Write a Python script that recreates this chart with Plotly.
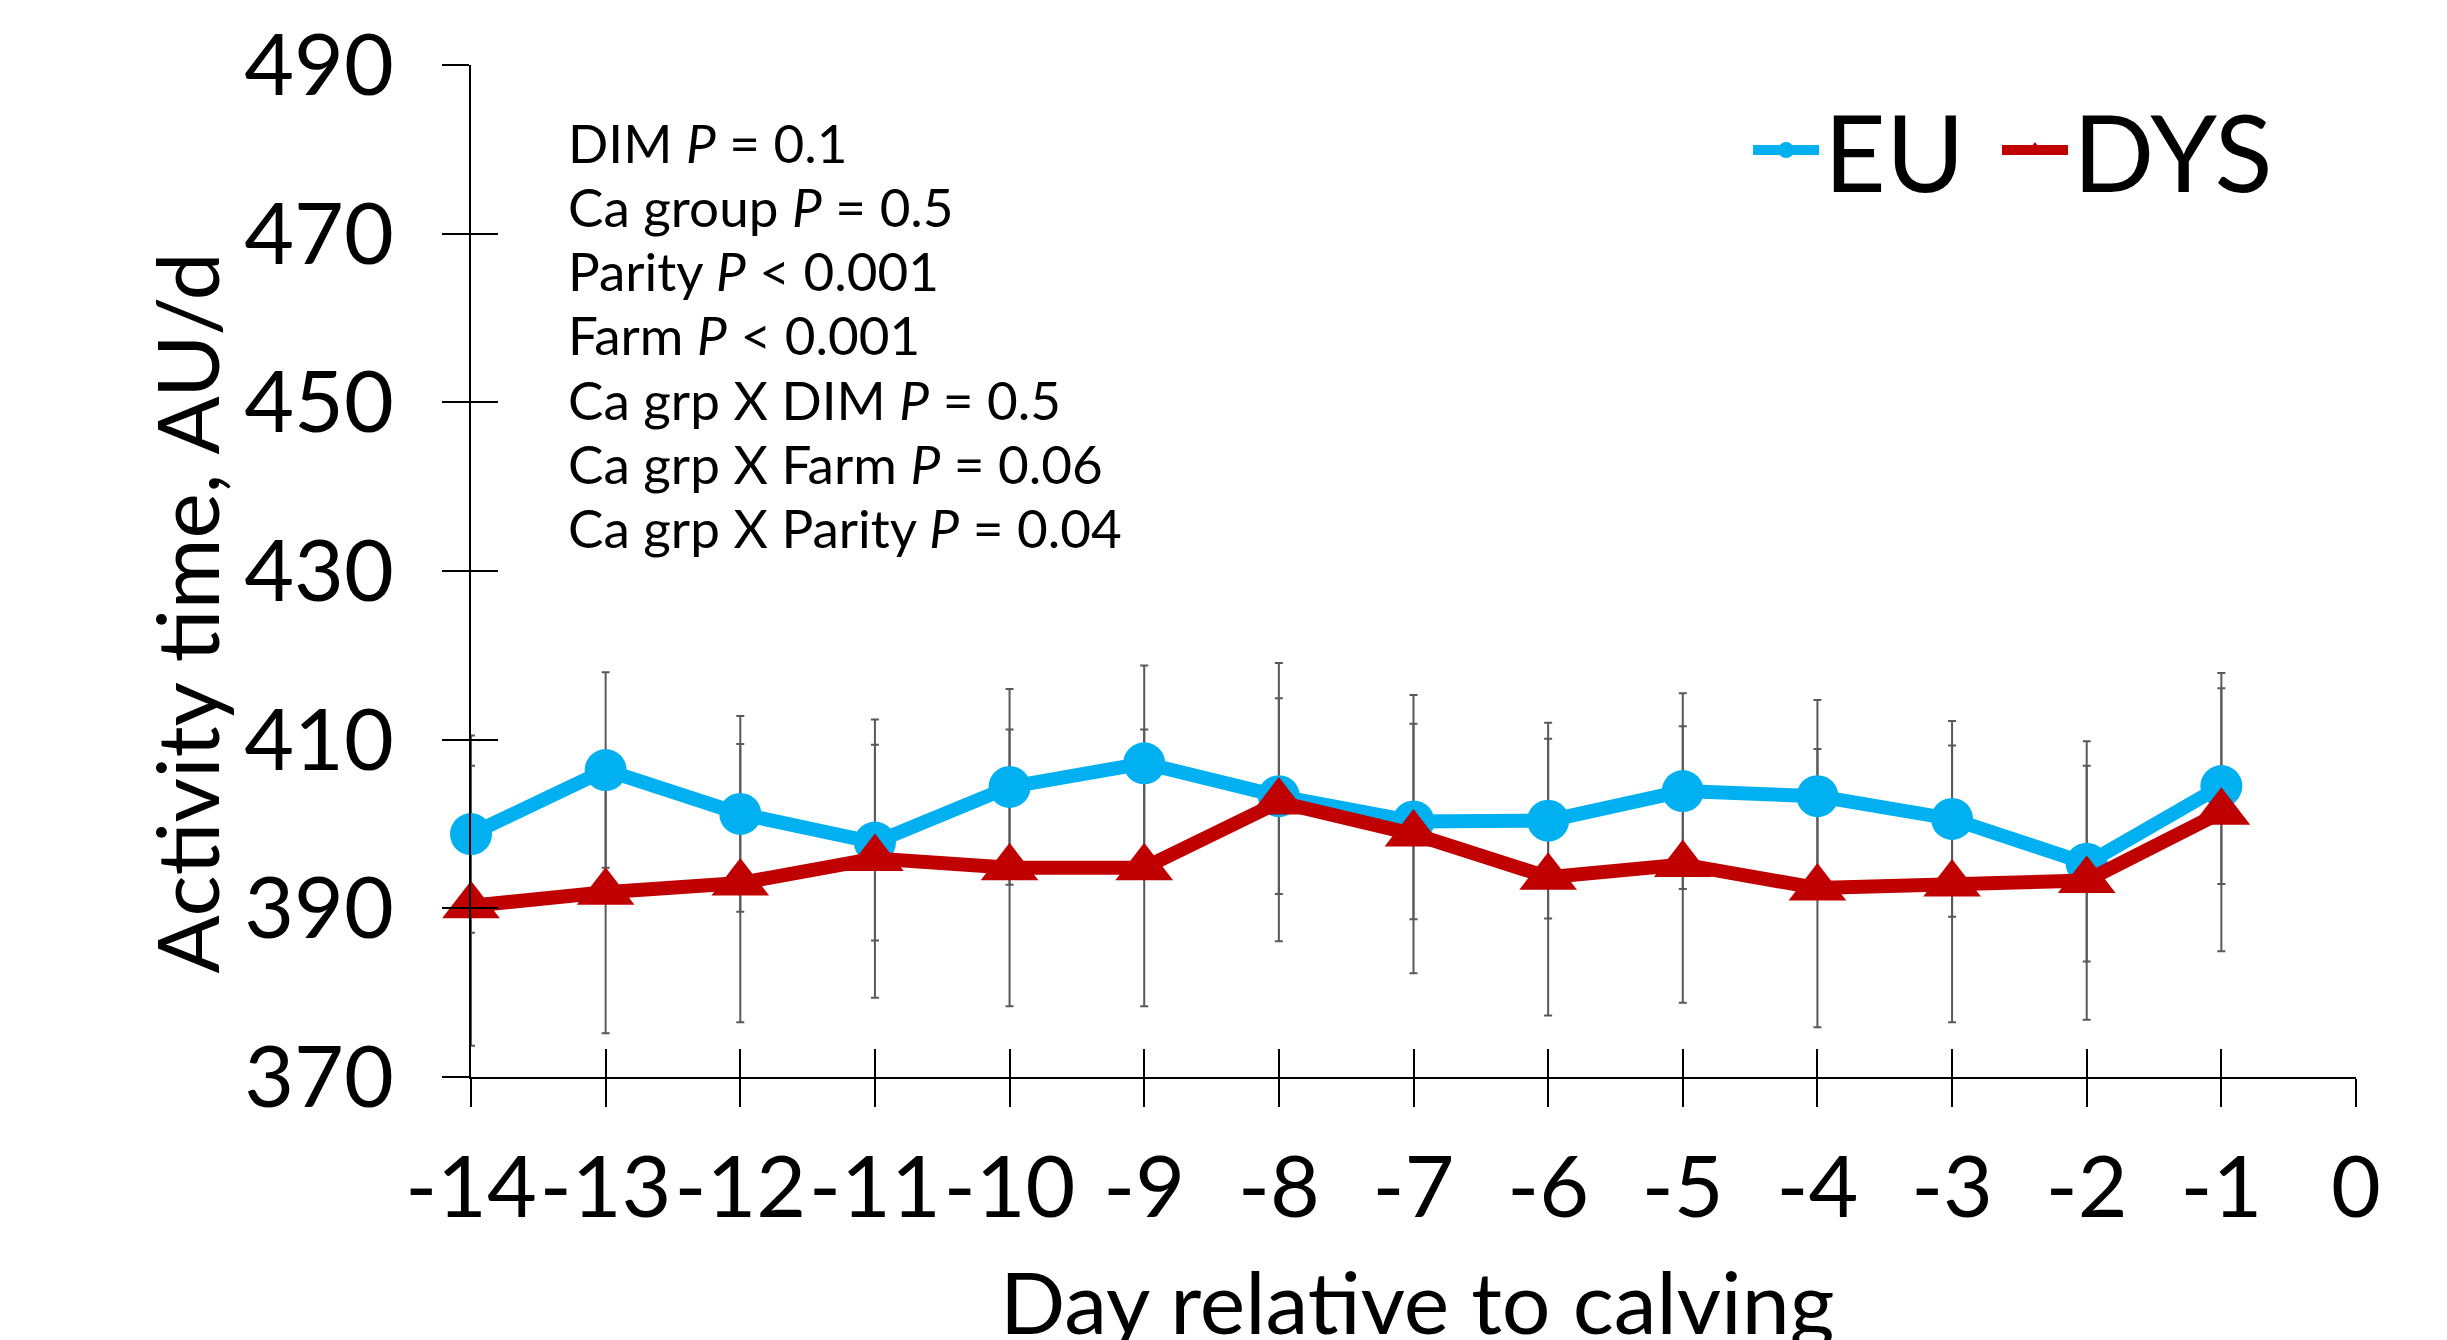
import plotly.graph_objects as go

days = [-14, -13, -12, -11, -10, -9, -8, -7, -6, -5, -4, -3, -2, -1]
eu_mean = [398.8, 406.4, 401.2, 397.8, 404.4, 407.2, 403.3, 400.3, 400.4, 403.9, 403.3, 400.6, 395.3, 404.5]
eu_se = [11.7, 11.6, 11.6, 11.6, 11.6, 11.6, 11.6, 11.6, 11.6, 11.6, 11.4, 11.6, 11.6, 11.6]
dys_mean = [390.3, 391.9, 393.0, 395.9, 394.8, 394.8, 402.6, 398.8, 393.7, 395.2, 392.4, 392.9, 393.3, 401.4]
dys_se = [16.6, 16.7, 16.5, 16.5, 16.4, 16.4, 16.5, 16.5, 16.4, 16.4, 16.5, 16.4, 16.5, 16.5]

series_names = ["EU", "DYS"]
x_ticks = [-14, -13, -12, -11, -10, -9, -8, -7, -6, -5, -4, -3, -2, -1, 0]
y_ticks = [370, 390, 410, 430, 450, 470, 490]
stats_lines = [
    "DIM <i>P</i> = 0.1",
    "Ca group <i>P</i> = 0.5",
    "Parity <i>P</i> < 0.001",
    "Farm <i>P</i> < 0.001",
    "Ca grp X DIM <i>P</i> = 0.5",
    "Ca grp X Farm <i>P</i> = 0.06",
    "Ca grp X Parity <i>P</i> = 0.04",
]

FONT = "Lato"
BLUE = "#00B0F0"
RED = "#C00000"
GRAY = "#595959"
X_RANGE = [-14, 0]
Y_RANGE = [370, 490]
NBSP = "\u00a0"

fig = go.Figure()

# error bars (behind lines)
for mean, se in [(eu_mean, eu_se), (dys_mean, dys_se)]:
    fig.add_trace(go.Scatter(
        x=days, y=mean, mode="markers",
        marker=dict(size=1, color="rgba(0,0,0,0)"),
        error_y=dict(type="data", array=se, symmetric=True, color=GRAY, thickness=2, width=4),
        showlegend=False, hoverinfo="skip", cliponaxis=False,
        xaxis="x", yaxis="y",
    ))

fig.add_trace(go.Scatter(
    x=days, y=eu_mean, name=series_names[0] + NBSP, mode="lines+markers",
    line=dict(color=BLUE, width=14),
    marker=dict(symbol="circle", size=42, color=BLUE),
    cliponaxis=False, xaxis="x2", yaxis="y2",
))
fig.add_trace(go.Scatter(
    x=days, y=dys_mean, name=series_names[1], mode="lines+markers",
    line=dict(color=RED, width=14),
    marker=dict(symbol="triangle-up", size=50, color=RED),
    cliponaxis=False, xaxis="x2", yaxis="y2",
))

tickfont = dict(family=FONT, size=86, color="black")

fig.update_layout(
    width=2447, height=1340,
    margin=dict(l=463, r=99, t=57, b=271, autoexpand=False),
    paper_bgcolor="white", plot_bgcolor="white",
    font=dict(family=FONT, color="black"),
    xaxis=dict(
        range=X_RANGE, tickvals=x_ticks, ticktext=[str(v) for v in x_ticks],
        ticks="outside", ticklen=28, tickwidth=2, tickcolor="black",
        showline=True, linewidth=2, linecolor="black",
        showgrid=False, zeroline=False, tickfont=tickfont,
        ticklabelstandoff=7, automargin=False,
    ),
    yaxis=dict(
        range=Y_RANGE, tickvals=y_ticks,
        ticks="outside", ticklen=27, tickwidth=2, tickcolor="black",
        showline=True, linewidth=2, linecolor="black",
        showgrid=False, zeroline=False, tickfont=tickfont,
        ticklabelstandoff=31, automargin=False,
    ),
    xaxis2=dict(
        range=X_RANGE, tickvals=x_ticks, overlaying="x", anchor="y2", side="bottom",
        ticks="inside", ticklen=28, tickwidth=2, tickcolor="black",
        showline=False, showgrid=False, zeroline=False, showticklabels=False,
        automargin=False,
    ),
    yaxis2=dict(
        range=Y_RANGE, tickvals=y_ticks, overlaying="y", anchor="x2", side="left",
        ticks="inside", ticklen=27, tickwidth=2, tickcolor="black",
        showline=False, showgrid=False, zeroline=False, showticklabels=False,
        automargin=False,
    ),
    showlegend=True,
    legend=dict(
        orientation="h", x=0.6775, y=0.9155, xanchor="left", yanchor="middle",
        font=dict(family=FONT, size=107, color="black"),
        bgcolor="rgba(0,0,0,0)", itemwidth=66,
    ),
)

annotations = []
for i, line in enumerate(stats_lines):
    annotations.append(dict(
        text=line, xref="paper", yref="paper", x=0.0503, y=0.9239 - i * 0.0635,
        xanchor="left", yanchor="middle", showarrow=False,
        font=dict(family=FONT, size=53, color="black"),
    ))
annotations.append(dict(
    text="Activity time, AU/d", xref="paper", yref="paper", x=-0.1512, y=0.459,
    xanchor="center", yanchor="middle", textangle=-90, showarrow=False,
    font=dict(family=FONT, size=86, color="black"),
))
annotations.append(dict(
    text="Day relative to calving", xref="paper", yref="paper", x=0.502, y=-0.2204,
    xanchor="center", yanchor="middle", showarrow=False,
    font=dict(family=FONT, size=86, color="black"),
))
fig.update_layout(annotations=annotations)

fig.write_html("out.html")
